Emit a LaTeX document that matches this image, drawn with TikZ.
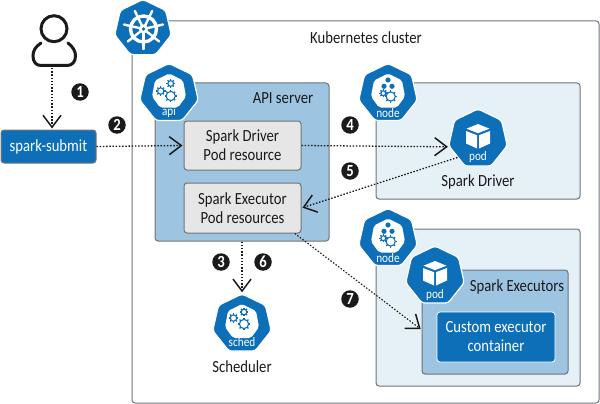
\documentclass[tikz,border=0pt]{standalone}
\usepackage{fontspec}
\setmainfont[FakeStretch=0.865]{Carlito}
\usetikzlibrary{shapes.geometric,arrows.meta}
\definecolor{kblue}{HTML}{0D6FB8}
\definecolor{apifill}{HTML}{9DC5E1}
\definecolor{nodefill}{HTML}{E5F0F7}
\definecolor{resfill}{HTML}{E6E6E6}
\definecolor{edgegray}{HTML}{6E7478}
\definecolor{inkblack}{HTML}{1A1A1A}
\tikzset{
  box/.style={draw=edgegray,rounded corners=3pt,line width=1pt,inner sep=0pt},
  hepta/.style={regular polygon,regular polygon sides=7,fill=kblue,draw=white,line width=1.2pt,inner sep=0pt,minimum size=60pt,rounded corners=3pt},
  lab/.style={font=\fontsize{17}{19}\selectfont,text=inkblack,align=center,inner sep=0pt},
  wlab/.style={lab,text=white},
  tag/.style={font=\fontsize{13}{13}\selectfont,text=white,inner sep=0pt},
  badge/.style={circle,fill=inkblack,text=white,font=\fontsize{17}{17}\selectfont\bfseries,minimum size=17.5pt,inner sep=0pt},
  flow/.style={line width=1.3pt,dash pattern=on 1.5pt off 1.7pt,-{Straight Barb[length=12pt,width=18pt,line width=1.5pt]},shorten >=1pt,inkblack},
  inner/.style={fill=white,rounded corners=2pt},
}
\newcommand\kgear[3]{%
  \draw[kblue,line width=1.1pt] (#1,#2) circle ({#3});
  \foreach \a in {0,45,...,315}{\draw[kblue,line width=1.3pt] (#1,#2) ++(\a:{#3}) -- ++(\a:1.6);}
}
\newcommand\kinner{\fill[inner] (0,-20) -- (14,-13) -- (17,3) -- (9,14) -- (-9,14) -- (-17,3) -- (-14,-13) -- cycle;}
\newcommand\kcube{%
  \fill[white] (0,-15) -- (11.5,-10.3) -- (0,-5.8) -- (-11.5,-10.3) -- cycle;
  \fill[white] (-12,-8) -- (-1,-3.8) -- (-1,9.5) -- (-12,4.5) -- cycle;
  \fill[white] (12,-8) -- (1,-3.8) -- (1,9.5) -- (12,4.5) -- cycle;
}
\newcommand\knodeicon{%
  \kinner
  \fill[kblue] (0,-13.5) circle (2.6);
  \fill[kblue] (-4,-7.2) circle (2.6);
  \fill[kblue] (4,-7.2) circle (2.6);
  \kgear{-4.7}{-0.3}{2.4}
  \kgear{2.7}{3}{4.6}
}
\begin{document}
\begin{tikzpicture}[x=1pt,y=-1pt]
\useasboundingbox (0,0) rectangle (600,404);
% containers
\node[box,minimum width=467pt,minimum height=382pt] (cluster) at (365.5,212) {};
\node[box,fill=apifill,minimum width=174pt,minimum height=158pt] (apibox) at (242,162) {};
\node[box,fill=nodefill,minimum width=204pt,minimum height=116pt] (nodeA) at (478,141) {};
\node[box,fill=nodefill,minimum width=204pt,minimum height=157pt] (nodeB) at (478,307.5) {};
\node[box,fill=apifill,minimum width=146pt,minimum height=104pt] (execbox) at (495,322) {};
\node[box,draw=white,fill=kblue,line width=0.8pt,minimum width=118pt,minimum height=50pt,align=center,font=\fontsize{17}{19}\selectfont,text=white] (custom) at (496,337) {Custom executor\\container};
\node[box,fill=resfill,minimum width=117pt,minimum height=49pt,lab] (driver) at (242.5,145.5) {Spark Driver\\Pod resource};
\node[box,fill=resfill,minimum width=117pt,minimum height=50pt,lab] (execu) at (242.5,208) {Spark Executor\\Pod resources};
\node[box,draw=inkblack!60,fill=kblue,minimum width=95pt,minimum height=33pt,font=\fontsize{17}{19}\selectfont,text=white] (subm) at (48.5,146.5) {spark-submit};
% labels
\node[lab] (tcluster) at (366,38) {Kubernetes cluster};
\node[lab] (tapi) at (283,98) {API server};
\node[lab] (tdrv) at (478,182) {Spark Driver};
\node[lab] (texe) at (517,287) {Spark Executors};
\node[lab] (tsch) at (242,367) {Scheduler};
% heptagons
\node[hepta,minimum size=58pt] (helm) at (143,28.5) {};
\node[hepta] (api) at (169,93.5) {};
\node[hepta] (hnodeA) at (388,93.5) {};
\node[hepta] (podA) at (478,139) {};
\node[hepta] (hnodeB) at (388,238.5) {};
\node[hepta] (podB) at (435,276) {};
\node[hepta] (sched) at (242,324) {};
% helm icon
\begin{scope}[shift={(143.5,29)},white]
  \draw[line width=3.4pt] (0,0) circle (13);
  \foreach \a in {90,141.43,...,400}{\draw[line width=2.4pt,line cap=round] (\a:3) -- (\a:20);}
  \fill (0,0) circle (4.5);
  \fill[kblue] (0,0) circle (1.8);
\end{scope}
% api icon
\begin{scope}[shift={(169,93.5)}]
  \kinner
  \kgear{-8.3}{-2.5}{3.2}
  \kgear{1.7}{-10}{2.8}
  \kgear{1.7}{2.5}{4.6}
\end{scope}
\node[tag] (tagapi) at (169,112) {api};
\begin{scope}[shift={(388,93.5)}]\knodeicon\end{scope}
\node[tag] (tagnodeA) at (388,113) {node};
\begin{scope}[shift={(388,238.5)}]\knodeicon\end{scope}
\node[tag] (tagnodeB) at (388,258) {node};
\begin{scope}[shift={(478,139)}]\kcube\end{scope}
\node[tag] (tagpodA) at (478,157) {pod};
\begin{scope}[shift={(435,276)}]\kcube\end{scope}
\node[tag] (tagpodB) at (435,295) {pod};
\begin{scope}[shift={(242,324)}]
  \kinner
  \kgear{-8.5}{-6}{3.2}
  \kgear{2}{-12}{2.8}
  \kgear{2}{0}{4.6}
\end{scope}
\node[tag] (tagsched) at (242,342) {sched};
% person
\begin{scope}[inkblack,line width=3pt,line cap=round]
  \draw (54,28.7) circle (13);
  \draw (41,43) .. controls (35,47) and (33,51) .. (33,56) .. controls (33,62) and (36,65.5) .. (41,65.5) -- (67,65.5) .. controls (72,65.5) and (75.5,62) .. (75.5,56) .. controls (75.5,51) and (73,47) .. (68,43);
\end{scope}
\coordinate (foot) at (52,68);
% connectors
\draw[flow] (foot) -- (foot |- subm.north);
\draw[flow] (subm.east) -- (driver.west);
\draw[flow] (driver.east) -- (podA.195);
\draw[flow] (podA.222) -- (execu.east);
\draw[flow,line width=1.1pt] (execu.-26) -- (execbox.186);
\draw[flow] (apibox.south) -- (sched.north);
% badges
\node[badge] (b1) at (80,92) {1};
\node[badge] (b2) at (117,125) {2};
\node[badge] (b3) at (221,262) {3};
\node[badge] (b6) at (263,262) {6};
\node[badge] (b4) at (350,125) {4};
\node[badge] (b5) at (350,171) {5};
\node[badge] (b7) at (350,299) {7};
\end{tikzpicture}
\end{document}
